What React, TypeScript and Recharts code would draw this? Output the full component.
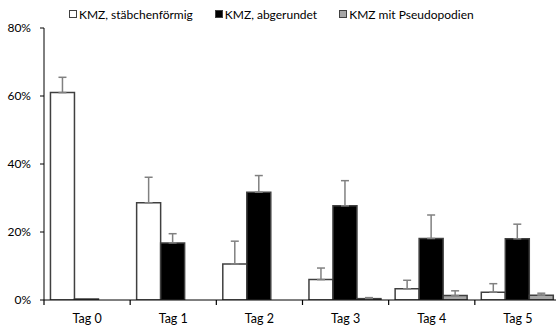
import React from 'react';
import { BarChart, Bar, XAxis, YAxis, ErrorBar, Legend } from 'recharts';

const categories = ['Tag 0', 'Tag 1', 'Tag 2', 'Tag 3', 'Tag 4', 'Tag 5'];
const rodValues = [61.0, 28.6, 10.6, 6.0, 3.3, 2.3];
const rodErrors = [4.5, 7.5, 6.7, 3.4, 2.5, 2.5];
const roundValues = [0.3, 16.8, 31.7, 27.7, 18.1, 18.0];
const roundErrors: (number | null)[] = [null, 2.7, 4.9, 7.4, 6.9, 4.3];
const pseudoValues = [0, 0, 0, 0.4, 1.3, 1.4];
const pseudoErrors: (number | null)[] = [null, null, null, 0.3, 1.4, 0.6];
const seriesNames = ['KMZ, stäbchenförmig', 'KMZ, abgerundet', 'KMZ mit Pseudopodien'];
const seriesFills = ['#ffffff', '#000000', '#a6a6a6'];
const yTicks = [0, 20, 40, 60, 80];

const toErr = (e: number | null) => (e == null ? undefined : [0, e]);

const data = categories.map((name, i) => ({
  name,
  rod: rodValues[i],
  rodErr: toErr(rodErrors[i]),
  round: roundValues[i],
  roundErr: toErr(roundErrors[i]),
  pseudo: pseudoValues[i],
  pseudoErr: toErr(pseudoErrors[i]),
}));

const FONT = 'Lato, "Open Sans", sans-serif';
const STROKE = '#404040';
const ERR = '#808080';
const Y_AXIS_WIDTH = 44;

const XTick = (props: any) => {
  const { x, y, payload, index } = props;
  const idx = typeof index === 'number' ? index : payload?.index ?? 0;
  // band width derived from the tick centre positions given by the band scale
  const bw = (2 * (x - Y_AXIS_WIDTH)) / (2 * idx + 1);
  const left = x - bw / 2;
  return (
    <g>
      <line x1={left} y1={y - 4} x2={left} y2={y + 1} stroke="#000" strokeWidth={1.2} />
      <text x={x} y={y + 10} dy="0.71em" textAnchor="middle" fontSize={12.5} fill="#000" fontFamily={FONT}>
        {payload.value}
      </text>
    </g>
  );
};

const renderLegend = () => (
  <div
    style={{
      display: 'flex',
      height: 20,
      alignItems: 'center',
      paddingLeft: 69,
      fontFamily: FONT,
      fontSize: 12,
      color: '#000',
      whiteSpace: 'nowrap',
    }}
  >
    {seriesNames.map((n, i) => (
      <div key={n} style={{ display: 'flex', alignItems: 'center', marginRight: 22 }}>
        <span
          style={{
            display: 'inline-block',
            width: 6,
            height: 6,
            background: seriesFills[i],
            border: `1.3px solid ${STROKE}`,
            marginRight: 2,
          }}
        />
        <span>{n}</span>
      </div>
    ))}
  </div>
);

export default function App() {
  return (
    <div style={{ position: 'absolute', left: 0, top: 0, width: 556, height: 328, overflow: 'hidden', background: '#fff' }}>
      <BarChart
        width={570}
        height={328}
        data={data}
        margin={{ top: 8, right: 9, bottom: 4, left: 0 }}
        barCategoryGap="7.5%"
        barGap={0}
        style={{ fontFamily: FONT }}
      >
        <Legend verticalAlign="top" content={renderLegend} wrapperStyle={{ top: 4, left: 0 }} />
        <YAxis
          width={Y_AXIS_WIDTH}
          domain={[0, 80]}
          ticks={yTicks}
          tickFormatter={(v: number) => `${v}%`}
          tickSize={4}
          tickMargin={9}
          axisLine={{ stroke: '#000' }}
          tickLine={{ stroke: '#000' }}
          tick={{ fontSize: 12, fill: '#000', fontFamily: FONT }}
          allowDataOverflow
        />
        <XAxis
          dataKey="name"
          height={24}
          tickSize={4}
          tickMargin={0}
          tickLine={false}
          axisLine={{ stroke: '#000' }}
          tick={<XTick />}
          interval={0}
        />
        {['rod', 'round', 'pseudo'].map((k, i) => (
          <Bar
            key={k}
            dataKey={k}
            name={seriesNames[i]}
            fill={seriesFills[i]}
            stroke={STROKE}
            strokeWidth={1.5}
            isAnimationActive={false}
          >
            <ErrorBar dataKey={`${k}Err`} width={4} stroke={ERR} strokeWidth={1.5} direction="y" />
          </Bar>
        ))}
      </BarChart>
    </div>
  );
}
